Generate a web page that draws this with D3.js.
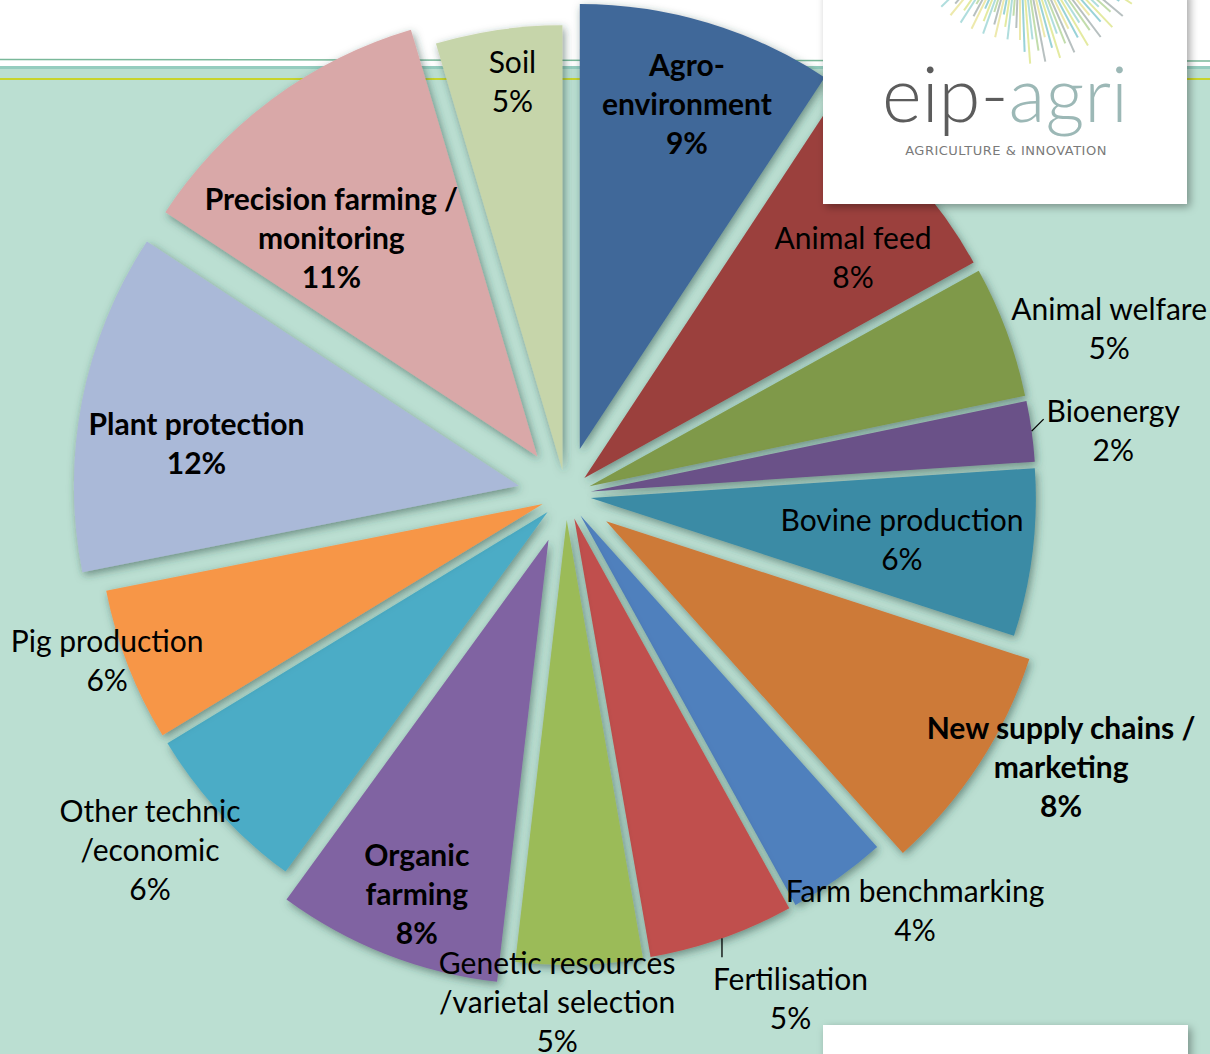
<!DOCTYPE html>
<html>
<head>
<meta charset="utf-8">
<script src="https://cdn.jsdelivr.net/npm/d3@7"></script>
<style>
  body { margin: 0; background: #ffffff; }
  svg { display: block; }
</style>
</head>
<body>
<div class="chart"></div>
<script>
// chart data (clockwise from 12 o'clock)
var categories = [
  "Agro-\nenvironment", "Animal feed", "Animal welfare", "Bioenergy",
  "Bovine production", "New supply chains /\nmarketing", "Farm benchmarking",
  "Fertilisation", "Genetic resources\n/varietal selection", "Organic\nfarming",
  "Other technic\n/economic", "Pig production", "Plant protection",
  "Precision farming /\nmonitoring", "Soil"
];
// shares
var shares = [9.3, 7.7, 4.8, 2.2, 6.1, 8.4, 3.6, 5.3, 4.6, 8.2, 6.3, 5.6, 12.4, 11.2, 4.6];
var highlighted = ["Agro-\nenvironment", "New supply chains /\nmarketing", "Organic\nfarming",
  "Plant protection", "Precision farming /\nmonitoring"];

var colors = ["#3f6899", "#9b3f3d", "#7f994a", "#6a5188", "#3a8ba5", "#cd7a37", "#4f80bd",
  "#c0504d", "#9bbb59", "#8064a2", "#4bacc6", "#f79646", "#aab9d8", "#d9a8a8", "#c6d5aa"];

// label placement: [angle in degrees clockwise from top, distance from pie centre]
var labelPolar = [
  [17.2, 409], [50.5, 372], [73.0, 568], [83.3, 551], [97.7, 339], [118.8, 565],
  [140.0, 543], [156.0, 552], [181.0, 508], [200.5, 426], [229.5, 547], [250.1, 488],
  [277.8, 373], [317.6, 348], [352.6, 416]
];

var svgWidth = 1210;
var svgHeight = 1054;
var cx = 566, cy = 495;
var radius = 445;

var total = d3.sum(shares);

var svg = d3.select(".chart").append("svg")
  .attr("width", svgWidth)
  .attr("height", svgHeight);

var defs = svg.append("defs");
var shadow = defs.append("filter").attr("id", "shadow")
  .attr("x", "-20%").attr("y", "-20%").attr("width", "140%").attr("height", "140%");
shadow.append("feDropShadow")
  .attr("dx", 2).attr("dy", 3).attr("stdDeviation", 4)
  .attr("flood-color", "#2b4a40").attr("flood-opacity", 0.55);

var boxShadow = defs.append("filter").attr("id", "boxShadow")
  .attr("x", "-10%").attr("y", "-10%").attr("width", "120%").attr("height", "130%");
boxShadow.append("feDropShadow")
  .attr("dx", 3).attr("dy", 3).attr("stdDeviation", 4)
  .attr("flood-color", "#000").attr("flood-opacity", 0.35);

// slide background
svg.append("rect").attr("x", 0).attr("y", 0).attr("width", svgWidth).attr("height", svgHeight)
  .attr("fill", "#ffffff");
svg.append("rect").attr("x", 0).attr("y", 66).attr("width", svgWidth).attr("height", svgHeight - 66)
  .attr("fill", "#bbdfd2");
svg.append("line").attr("x1", 0).attr("x2", svgWidth).attr("y1", 59.5).attr("y2", 61)
  .attr("stroke", "#7ab89a").attr("stroke-width", 1.5);
svg.append("rect").attr("x", 0).attr("y", 66).attr("width", svgWidth).attr("height", 3)
  .attr("fill", "#95cdbf");
svg.append("line").attr("x1", 0).attr("x2", svgWidth).attr("y1", 79).attr("y2", 79)
  .attr("stroke", "#c8d42c").attr("stroke-width", 2);

// pie
var pie = d3.pie().sort(null).value(function(d) { return d; });
var arc = d3.arc().innerRadius(0).outerRadius(radius);
var arcs = pie(shares);

function dirOf(a) { return [Math.sin(a), -Math.cos(a)]; }
function explodeOf(i) { return highlighted.indexOf(categories[i]) >= 0 ? 48 : 25; }

var chart = svg.append("g").attr("transform", "translate(" + cx + "," + cy + ")");

chart.selectAll("path.slice")
  .data(arcs)
  .enter()
  .append("path")
  .attr("class", "slice")
  .attr("d", arc)
  .attr("fill", function(d, i) { return colors[i]; })
  .attr("filter", "url(#shadow)")
  .attr("transform", function(d, i) {
    var mid = (d.startAngle + d.endAngle) / 2;
    var v = dirOf(mid), e = explodeOf(i);
    return "translate(" + (v[0] * e) + "," + (v[1] * e) + ")";
  });

// leader lines for the two small outside labels
var leaders = [
  { idx: 3, dx: 12, dy: -12 },
  { idx: 7, dx: 0, dy: 19 }
];
chart.selectAll("line.leader")
  .data(leaders)
  .enter()
  .append("line")
  .attr("class", "leader")
  .attr("stroke", "#000")
  .attr("stroke-width", 1.3)
  .each(function(l) {
    var d = arcs[l.idx];
    var mid = (d.startAngle + d.endAngle) / 2;
    var v = dirOf(mid), r = radius + explodeOf(l.idx);
    var x = v[0] * r, y = v[1] * r;
    d3.select(this).attr("x1", x).attr("y1", y).attr("x2", x + l.dx).attr("y2", y + l.dy);
  });

// data labels
var lineH = 39;
var labels = chart.selectAll("text.label")
  .data(arcs)
  .enter()
  .append("text")
  .attr("class", "label")
  .style("font-family", "Lato, 'DejaVu Sans', sans-serif")
  .style("font-size", "30px")
  .style("font-weight", function(d, i) { return highlighted.indexOf(categories[i]) >= 0 ? "bold" : "normal"; })
  .style("text-anchor", "middle")
  .attr("fill", "#000");

labels.each(function(d, i) {
  var p = labelPolar[i];
  var a = p[0] * Math.PI / 180;
  var x = Math.sin(a) * p[1], y = -Math.cos(a) * p[1];
  var pct = Math.round(shares[i] / total * 100) + "%";
  var lines = categories[i].split("\n").concat([pct]);
  var t = d3.select(this);
  lines.forEach(function(s, k) {
    t.append("tspan")
      .attr("x", x)
      .attr("y", y + (k - (lines.length - 1) / 2) * lineH)
      .attr("dy", "0.35em")
      .text(s);
  });
});

// logo panel, top right
var logo = svg.append("g");
logo.append("rect").attr("x", 823).attr("y", -10).attr("width", 364).attr("height", 214)
  .attr("fill", "#ffffff").attr("filter", "url(#boxShadow)");
var rayColors = ["#d9e27a", "#8fd0d0", "#a9cf8a", "#9aa6a6", "#e6e08a", "#6fc0c8"];
var rays = d3.range(-34, 35);
logo.selectAll("line.ray")
  .data(rays)
  .enter()
  .append("line")
  .attr("class", "ray")
  .attr("x1", function(k) { return 1020 + Math.sin(k * 0.038) * 60; })
  .attr("y1", function(k) { return -70 + Math.cos(k * 0.038) * 60; })
  .attr("x2", function(k) { return 1020 + Math.sin(k * 0.038) * (110 + (k % 3) * 12); })
  .attr("y2", function(k) { return -70 + Math.cos(k * 0.038) * (110 + (k % 3) * 12); })
  .attr("stroke", function(k) { return rayColors[(k + 40) % rayColors.length]; })
  .attr("stroke-width", 2)
  .attr("opacity", 0.7);
var brand = logo.append("text")
  .attr("x", 1005).attr("y", 122)
  .style("font-family", "Lato, sans-serif")
  .style("font-weight", 300)
  .style("font-size", "76px")
  .style("text-anchor", "middle");
brand.append("tspan").attr("fill", "#5c5c5c").text("eip-");
brand.append("tspan").attr("fill", "#9cb8b6").text("agri");
logo.append("text")
  .attr("x", 1006).attr("y", 155)
  .style("font-family", "'DejaVu Sans', sans-serif")
  .style("font-size", "13px")
  .style("letter-spacing", "0.5px")
  .style("text-anchor", "middle")
  .attr("fill", "#7a7a7a")
  .text("AGRICULTURE & INNOVATION");

// white panel, bottom right
svg.append("rect").attr("x", 823).attr("y", 1025).attr("width", 365).attr("height", 60)
  .attr("fill", "#ffffff").attr("filter", "url(#boxShadow)");
</script>
</body>
</html>
